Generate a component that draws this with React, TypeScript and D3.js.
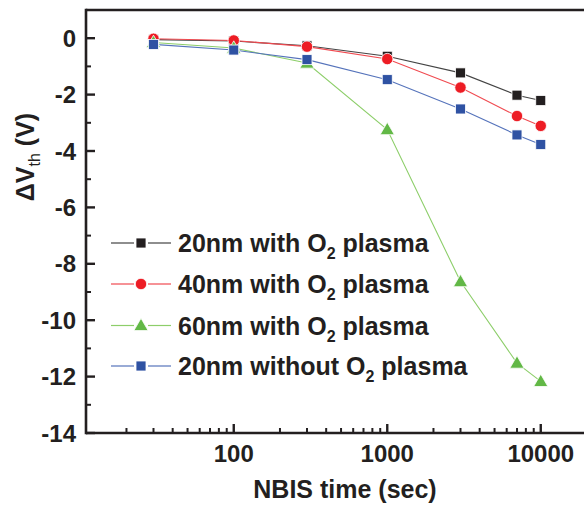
import React from "react";
import * as d3 from "d3";

// NBIS stress time (sec)
const times = [30, 100, 300, 1000, 3000, 7000, 10000];

const black20 = [-0.05, -0.1, -0.27, -0.64, -1.23, -2.02, -2.21];
const red40 = [-0.02, -0.08, -0.3, -0.74, -1.75, -2.76, -3.11];
const green60 = [-0.15, -0.35, -0.88, -3.24, -8.63, -11.52, -12.17];
const blue20 = [-0.22, -0.42, -0.76, -1.47, -2.51, -3.43, -3.77];

const xTickLabels = [100, 1000, 10000];
const yTickLabels = [0, -2, -4, -6, -8, -10, -12, -14];

const seriesNames = ["20nm with O", "40nm with O", "60nm with O", "20nm without O"];

const series = [
  { name: seriesNames[0], values: black20, fill: "#231f20", line: "#444", shape: "square" },
  { name: seriesNames[1], values: red40, fill: "#ed1c24", line: "#f04a50", shape: "circle" },
  { name: seriesNames[2], values: green60, fill: "#62b846", line: "#8dce6a", shape: "triangle" },
  { name: seriesNames[3], values: blue20, fill: "#2f52a3", line: "#5573bb", shape: "square" },
];

const font = "'Liberation Sans', Arial, sans-serif";

function Marker({ shape, cx, cy, fill }: { shape: string; cx: number; cy: number; fill: string }) {
  if (shape === "circle")
    return <circle cx={cx} cy={cy} r={5.7} fill={fill} stroke="#fff" strokeWidth={0.8} />;
  if (shape === "triangle") {
    const p = d3.symbol().type(d3.symbolTriangle).size(88)();
    return <path d={p || ""} transform={`translate(${cx},${cy + 1})`} fill={fill} stroke="#fff" strokeWidth={0.8} />;
  }
  return <rect x={cx - 5} y={cy - 5} width={10} height={10} fill={fill} stroke="#fff" strokeWidth={0.8} />;
}

export default function App() {
  const W = 584;
  const H = 506;
  const left = 86;
  const top = 10;
  const bottom = 433;
  const x = d3.scaleLog().domain([10.9, 19000]).range([left, left + 153.5 * Math.log10(19000 / 10.9)]);
  const y = d3.scaleLinear().domain([1, -14]).range([top, bottom]);

  const line = d3
    .line<number>()
    .x((_, i) => x(times[i]))
    .y((d) => y(d));

  const minorX: number[] = [];
  [10, 100, 1000, 10000].forEach((dec) => {
    for (let k = 2; k <= 9; k++) if (dec * k > 10.9 && dec * k < 19000) minorX.push(dec * k);
  });
  const minorY = d3.range(-13, 1, 2);

  const legendY = [243, 284, 325.5, 366];

  return (
    <svg
      width={W}
      height={H}
      style={{ position: "absolute", left: 0, top: 0, background: "#fff" }}
      fontFamily={font}
    >
      {/* series */}
      {series.map((s) => (
        <path key={s.name + "l"} d={line(s.values) || ""} fill="none" stroke={s.line} strokeWidth={1.1} />
      ))}
      {series.map((s) =>
        s.values.map((v, i) => (
          <Marker key={s.name + i} shape={s.shape} cx={x(times[i])} cy={y(v)} fill={s.fill} />
        ))
      )}

      {/* axes */}
      <line x1={left} x2={W} y1={top} y2={top} stroke="#231f20" strokeWidth={2.6} />
      <line x1={left} x2={left} y1={top - 1.3} y2={bottom + 1.3} stroke="#231f20" strokeWidth={2.6} />
      <line x1={left} x2={W} y1={bottom} y2={bottom} stroke="#231f20" strokeWidth={2.6} />

      {yTickLabels.map((t) => (
        <g key={"yt" + t}>
          <line x1={left} x2={left + 9} y1={y(t)} y2={y(t)} stroke="#231f20" strokeWidth={2.4} />
          <text x={76} y={y(t) + 8.5} textAnchor="end" fontSize={24} fontWeight="bold" fill="#231f20">
            {t}
          </text>
        </g>
      ))}
      {minorY.map((t) => (
        <line key={"ym" + t} x1={left} x2={left + 5} y1={y(t)} y2={y(t)} stroke="#231f20" strokeWidth={2} />
      ))}

      {xTickLabels.map((t) => (
        <g key={"xt" + t}>
          <line x1={x(t)} x2={x(t)} y1={bottom} y2={bottom - 9} stroke="#231f20" strokeWidth={2.4} />
          <text x={x(t)} y={bottom + 29} textAnchor="middle" fontSize={24} fontWeight="bold" fill="#231f20">
            {t}
          </text>
        </g>
      ))}
      {minorX.map((t) => (
        <line key={"xm" + t} x1={x(t)} x2={x(t)} y1={bottom} y2={bottom - 5} stroke="#231f20" strokeWidth={2} />
      ))}

      {/* axis titles */}
      <text x={345} y={498} textAnchor="middle" fontSize={25} fontWeight="bold" fill="#231f20">
        NBIS time (sec)
      </text>
      <text
        transform="translate(34,157) rotate(-90)"
        textAnchor="middle"
        fontSize={25}
        fontWeight="bold"
        fill="#231f20"
      >
        ΔV
        <tspan fontSize={16} fontWeight="normal" dy={6}>
          th
        </tspan>
        <tspan dy={-6}> (V)</tspan>
      </text>

      {/* legend */}
      {series.map((s, i) => (
        <g key={s.name + "lg"}>
          <line x1={111} x2={134} y1={legendY[i]} y2={legendY[i]} stroke={s.line} strokeWidth={1.2} />
          <line x1={148} x2={171} y1={legendY[i]} y2={legendY[i]} stroke={s.line} strokeWidth={1.2} />
          <Marker shape={s.shape} cx={141} cy={legendY[i]} fill={s.fill} />
          <text x={178} y={legendY[i] + 9} fontSize={25} fontWeight="bold" fill="#231f20">
            {s.name}
            <tspan fontSize={16} dy={7}>
              2
            </tspan>
            <tspan dy={-7}> plasma</tspan>
          </text>
        </g>
      ))}
    </svg>
  );
}
